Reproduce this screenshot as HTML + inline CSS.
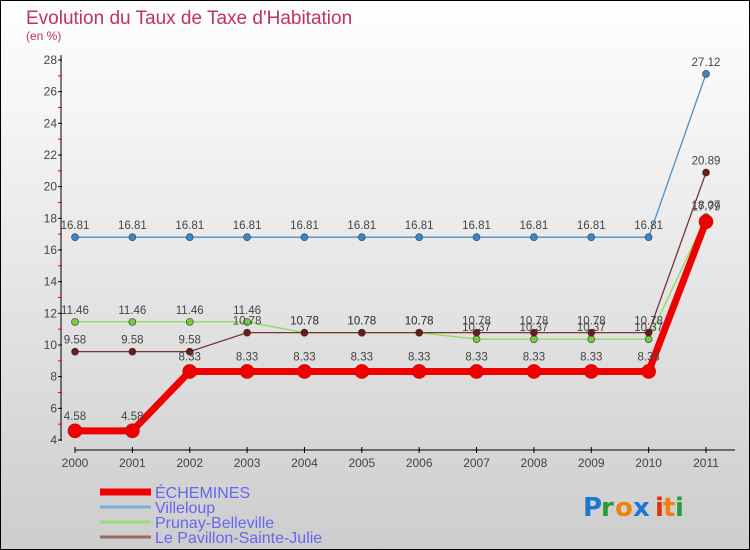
<!DOCTYPE html>
<html><head><meta charset="utf-8"><style>
body{margin:0}
svg{display:block;font-family:"Liberation Sans",sans-serif}
</style></head><body>
<svg id="c" width="750" height="550" xmlns="http://www.w3.org/2000/svg">
<defs><linearGradient id="bg" x1="0" y1="0" x2="0" y2="1"><stop offset="0" stop-color="#ffffff"/><stop offset="1" stop-color="#cdcdcd"/></linearGradient></defs>
<rect x="0.5" y="0.5" width="749" height="549" fill="url(#bg)" stroke="#000"/>
<text x="26" y="24" font-size="19" fill="#c0306a">Evolution du Taux de Taxe d'Habitation</text>
<text x="26" y="40" font-size="12" fill="#c0306a">(en %)</text>
<g id="axes"></g><g id="series"></g><g id="legend"></g>
<g font-size="26" font-family="'DejaVu Sans',sans-serif" font-weight="bold">
<text x="583" y="516" fill="#1a78d0">P</text><text x="601" y="516" fill="#2a9a3a">r</text><text x="615" y="516" fill="#f08010">o</text><text x="633" y="516" fill="#1a78d0">x</text><text x="655" y="516" fill="#e03010">i</text><text x="663" y="516" fill="#f08010">t</text><text x="675" y="516" fill="#2a9a3a">i</text></g>
</svg>
<script>
const years=["2000","2001","2002","2003","2004","2005","2006","2007","2008","2009","2010","2011"];
const yTicks=[4,6,8,10,12,14,16,18,20,22,24,26,28];
const echemines=[4.58,4.58,8.33,8.33,8.33,8.33,8.33,8.33,8.33,8.33,8.33,17.79];
const villeloup=[16.81,16.81,16.81,16.81,16.81,16.81,16.81,16.81,16.81,16.81,16.81,27.12];
const prunay=[11.46,11.46,11.46,11.46,10.78,10.78,10.78,10.37,10.37,10.37,10.37,18.07];
const pavillon=[9.58,9.58,9.58,10.78,10.78,10.78,10.78,10.78,10.78,10.78,10.78,20.89];
const names=["ÉCHEMINES","Villeloup","Prunay-Belleville","Le Pavillon-Sainte-Julie"];
const NS="http://www.w3.org/2000/svg";
const X=i=>75+i*(706-75)/11;
const Y=v=>440-(v-4)*(380/24);
function el(t,a,p){const e=document.createElementNS(NS,t);for(const k in a)e.setAttribute(k,a[k]);p.appendChild(e);return e;}
const ax=document.getElementById('axes');
let l=el('line',{x1:61,y1:55,x2:61,y2:441,stroke:'#000'},ax);


l=el('line',{x1:75,y1:450,x2:735,y2:450,stroke:'#000'},ax);


yTicks.forEach(v=>{
 el('line',{x1:58,y1:Y(v),x2:62,y2:Y(v),stroke:'#000'},ax);
 if(v<28)el('line',{x1:58,y1:Y(v+1),x2:62,y2:Y(v+1),stroke:'#e00'},ax);
 const t=el('text',{x:57,y:Y(v)+4,'font-size':12,fill:'#444','text-anchor':'end'},ax);t.textContent=v;
 
 
});
years.forEach((y,i)=>{
 el('line',{x1:X(i),y1:447,x2:X(i),y2:453,stroke:'#000'},ax);
 const t=el('text',{x:X(i),y:467,'font-size':12,fill:'#444','text-anchor':'middle'},ax);t.textContent=y;
 
 
});
const sg=document.getElementById('series');
const defs=[
 {d:villeloup,c:'#4a90c8',w:1.3,r:3.5,f:'#3a86c8',n:'series-villeloup'},
 {d:prunay,c:'#88dd55',w:1.3,r:3.5,f:'#77cc44',n:'series-prunay-belleville'},
 {d:pavillon,c:'#7a3333',w:1.3,r:3.5,f:'#6a1a1a',n:'series-le-pavillon-sainte-julie'},
 {d:echemines,c:'#ee0000',w:7,r:7,f:'#ee0000',n:'series-echemines'}];
defs.forEach(s=>{
 const g=el('g',{},sg);
 
 
 el('polyline',{points:s.d.map((v,i)=>X(i)+','+Y(v)).join(' '),fill:'none',stroke:s.c,'stroke-width':s.w},g);
 s.d.forEach((v,i)=>{
  const c=el('circle',{cx:X(i),cy:Y(v),r:s.r,fill:s.f,stroke:s.r>5?'#c00':'#333','stroke-width':0.6},g);
  
  
  const t=el('text',{x:X(i),y:Y(v)-(s.r>5?11:8),'font-size':11.5,fill:'#444','text-anchor':'middle'},g);t.textContent=v.toFixed(2);
  
  
 });
});
const lg=document.getElementById('legend');
const lc=['#ee0000','#7aaed8','#99dd77','#9a6666'],lw=[7,3,3,3],ly=[492,507,522,537];
names.forEach((n,i)=>{
 const g=el('g',{},lg);
 
 
 el('line',{x1:100,y1:ly[i],x2:151,y2:ly[i],stroke:lc[i],'stroke-width':lw[i]},g);
 const t=el('text',{x:155,y:ly[i]+6,'font-size':16,fill:'#6666ee'},g);t.textContent=n;
});
</script>
</body></html>
